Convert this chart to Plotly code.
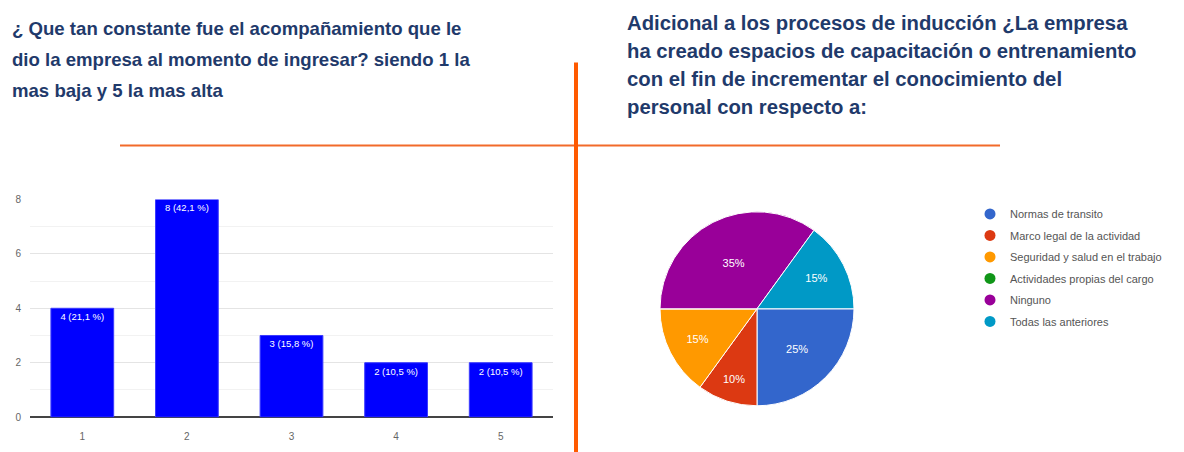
import plotly.graph_objects as go

# ---- data ----
bar_categories = ["1", "2", "3", "4", "5"]
bar_values = [4, 8, 3, 2, 2]
y_ticks = [0, 2, 4, 6, 8]

pie_labels = ["Normas de transito", "Marco legal de la actividad",
              "Seguridad y salud en el trabajo", "Actividades propias del cargo",
              "Ninguno", "Todas las anteriores"]
pie_values = [5, 2, 3, 0, 7, 3]
pie_colors = ["#3366cc", "#dc3912", "#ff9900", "#109618", "#990099", "#0099c6"]

title_left = ["¿ Que tan constante fue el acompañamiento que le",
              "dio la empresa al momento de ingresar? siendo 1 la",
              "mas baja y 5 la mas alta"]
title_right = ["Adicional a los procesos de inducción ¿La empresa",
               "ha creado espacios de capacitación o entrenamiento",
               "con el fin de incrementar el conocimiento del",
               "personal con respecto a:"]

W, H = 1184, 452

def px(x):
    return x / W

def py(y):
    # compensate observed vertical scaling of the rendered page
    yl = (y - 5.3) / 0.977
    return 1 - yl / H

total = sum(bar_values)
bar_text = [f"{v} ({v / total * 100:.1f} %)".replace(".", ",") for v in bar_values]

fig = go.Figure()

fig.add_trace(go.Bar(
    x=bar_categories, y=bar_values, text=bar_text,
    textposition="inside", insidetextanchor="end", textangle=0,
    texttemplate="%{text}",
    textfont=dict(color="white", size=9.5, family="Liberation Sans, Arial, sans-serif"),
    marker=dict(color="#0000ff", line=dict(color="#3b3bff", width=1)),
    width=0.6, showlegend=False, hoverinfo="skip",
))

fig.add_trace(go.Pie(
    labels=pie_labels, values=pie_values, sort=False, direction="clockwise",
    rotation=90, marker=dict(colors=pie_colors, line=dict(color="white", width=1)),
    textinfo="percent", textposition="inside", insidetextorientation="horizontal",
    texttemplate="%{percent:.0%}",
    textfont=dict(color="white", size=11, family="Liberation Sans, Arial, sans-serif"),
    domain=dict(x=[px(660), px(854)], y=[py(407), py(210)]),
    showlegend=False, hoverinfo="skip",
))

# legend entries with round markers
for lab, col in zip(pie_labels, pie_colors):
    fig.add_trace(go.Scatter(
        x=[None], y=[None], mode="markers", name=lab, legendgroup=lab,
        marker=dict(color=col, size=11, symbol="circle"),
    ))

left_font = dict(family="Liberation Sans, Arial, sans-serif", size=18.6, color="#1f3a6b")
right_font = dict(family="Liberation Sans, Arial, sans-serif", size=20.3, color="#1f3a6b")
annotations = []
for i, t in enumerate(title_left):
    annotations.append(dict(text=f"<b>{t}</b>", x=px(10), y=py(28 + 31 * i), xref="paper", yref="paper",
                            xanchor="left", yanchor="middle", showarrow=False, font=left_font))
for i, t in enumerate(title_right):
    annotations.append(dict(text=f"<b>{t}</b>", x=px(625), y=py(22 + 28 * i), xref="paper", yref="paper",
                            xanchor="left", yanchor="middle", showarrow=False, font=right_font))

shapes = [
    dict(type="line", xref="paper", yref="paper", x0=px(120), x1=px(1000), y0=py(145), y1=py(145),
         line=dict(color="#f26a2a", width=2)),
    dict(type="line", xref="paper", yref="paper", x0=px(576), x1=px(576), y0=py(62), y1=py(470),
         line=dict(color="#ff5a00", width=4)),
]

fig.update_layout(
    width=W, height=H, margin=dict(l=0, r=0, t=0, b=0),
    paper_bgcolor="white", plot_bgcolor="white",
    annotations=annotations, shapes=shapes,
    xaxis=dict(domain=[px(30), px(553)], showgrid=False, ticks="", showline=False,
               tickfont=dict(size=10, color="#666", family="Liberation Sans, Arial, sans-serif"),
               ticklabelstandoff=12, fixedrange=True),
    yaxis=dict(domain=[py(417), py(199)], range=[0, 8], tickvals=y_ticks,
               showgrid=True, gridcolor="#e4e4e4", gridwidth=1,
               minor=dict(dtick=1, showgrid=True, gridcolor="#f2f2f2"),
               zeroline=True, zerolinecolor="#444", zerolinewidth=2,
               tickfont=dict(size=10, color="#666", family="Liberation Sans, Arial, sans-serif"),
               ticklabelstandoff=8, fixedrange=True),
    legend=dict(x=px(970), y=py(199), xanchor="left", yanchor="top",
                font=dict(size=11, color="#555", family="Liberation Sans, Arial, sans-serif"),
                traceorder="grouped", tracegroupgap=2.5, itemwidth=30,
                bgcolor="rgba(0,0,0,0)"),
    font=dict(family="Liberation Sans, Arial, sans-serif"),
)

fig.write_html("out.html", config={"displayModeBar": False},
               post_script="document.body.style.margin='0';document.body.style.overflow='hidden';")
